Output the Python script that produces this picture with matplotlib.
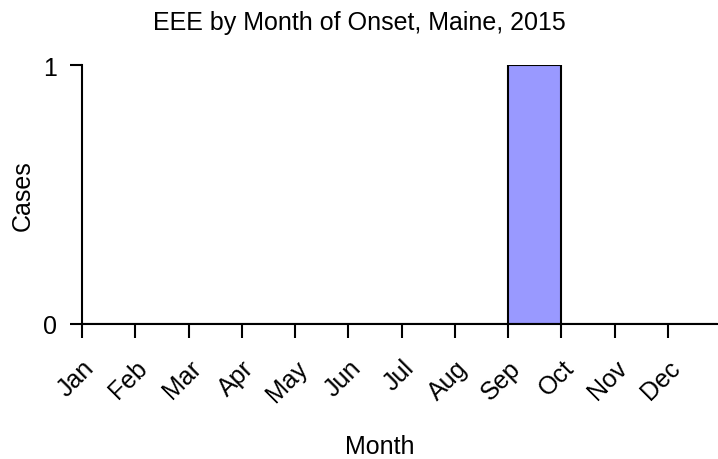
import matplotlib
matplotlib.use("Agg")
import matplotlib.pyplot as plt
import matplotlib.transforms as mtransforms
import numpy as np

months = ["Jan", "Feb", "Mar", "Apr", "May", "Jun", "Jul", "Aug", "Sep", "Oct", "Nov", "Dec"]
cases = [0, 0, 0, 0, 0, 0, 0, 0, 1, 0, 0, 0]
y_ticks = [0, 1]

plt.rcParams['font.family'] = ['Liberation Sans', 'DejaVu Sans']
FS = 18

fig = plt.figure(figsize=(7.18, 4.60), dpi=100)
ax = fig.add_axes([82/718, (460-325)/460, (717-82)/718, (325-66)/460])

x = np.arange(len(months))
ax.bar(x, cases, width=1.0, align='edge', color='#9999FF', edgecolor='black', linewidth=1.5, zorder=2)

ax.set_xlim(0, 11.92)
ax.set_ylim(0, 1)
ax.set_xticks(x)
ax.set_xticklabels(months, rotation=45, ha='right', va='top', rotation_mode='anchor', fontsize=FS)
ax.set_yticks(y_ticks)
ax.set_yticklabels([str(v) for v in y_ticks], fontsize=FS)

offset = mtransforms.ScaledTranslation(3/100, 0, fig.dpi_scale_trans)
for lbl in ax.get_xticklabels():
    lbl.set_transform(lbl.get_transform() + offset)

for s in ['top', 'right']:
    ax.spines[s].set_visible(False)
for s in ['left', 'bottom']:
    ax.spines[s].set_linewidth(1.5)
    ax.spines[s].set_zorder(3)

ax.tick_params(axis='x', length=10, width=1.5, pad=12.5)
ax.tick_params(axis='y', length=9, width=1.5, pad=9)

fig.suptitle("EEE by Month of Onset, Maine, 2015", fontsize=FS, x=0.5, y=1 - 23/460, va='center')
ax.set_xlabel("Month", fontsize=FS, va='center')
ax.xaxis.set_label_coords((380 - 82) / 635, (460 - 447 - 135) / 259)
ax.set_ylabel("Cases", fontsize=FS, va='center')
ax.yaxis.set_label_coords((23 - 82) / 635, 0.5)

fig.savefig("out.png", dpi=100)
